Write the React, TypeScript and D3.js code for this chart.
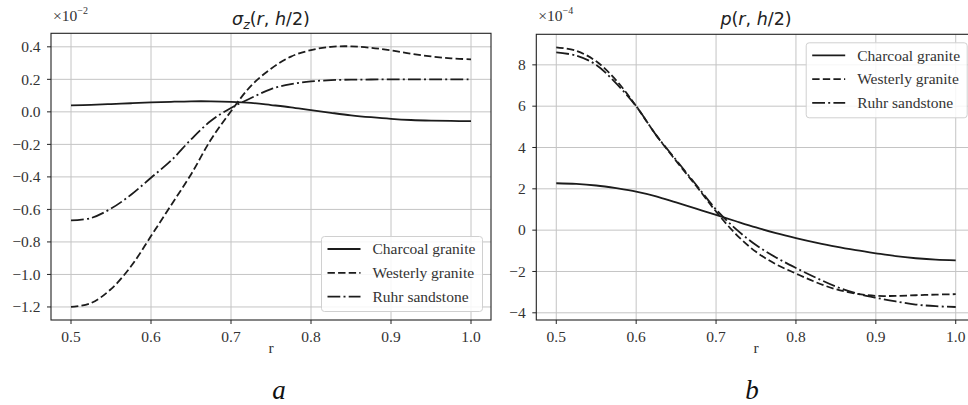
import React from "react";
import * as d3 from "d3";

// ---------- data ----------
const R = [0.5, 0.525, 0.55, 0.575, 0.6, 0.625, 0.65, 0.675, 0.7, 0.725, 0.75, 0.775, 0.8, 0.825, 0.85, 0.875, 0.9, 0.925, 0.95, 0.975, 1.0];

const seriesNames = ["Charcoal granite", "Westerly granite", "Ruhr sandstone"];

// sigma_z(r, h/2), units of 1e-2
const sigmaCharcoal = [0.04, 0.043, 0.048, 0.053, 0.058, 0.062, 0.065, 0.065, 0.062, 0.055, 0.042, 0.028, 0.01, -0.006, -0.021, -0.033, -0.043, -0.05, -0.054, -0.056, -0.057];
const sigmaWesterly = [-1.2, -1.176, -1.09, -0.95, -0.764, -0.575, -0.385, -0.17, 0.004, 0.16, 0.265, 0.34, 0.38, 0.4, 0.403, 0.394, 0.378, 0.358, 0.341, 0.329, 0.323];
const sigmaRuhr = [-0.668, -0.653, -0.595, -0.51, -0.405, -0.3, -0.17, -0.055, 0.024, 0.085, 0.14, 0.17, 0.187, 0.195, 0.198, 0.199, 0.2, 0.2, 0.2, 0.2, 0.2];

// p(r, h/2), units of 1e-4
const pCharcoal = [2.27, 2.24, 2.16, 2.03, 1.87, 1.64, 1.34, 1.04, 0.74, 0.43, 0.13, -0.14, -0.38, -0.6, -0.8, -0.97, -1.12, -1.26, -1.36, -1.43, -1.46];
const pWesterly = [8.85, 8.68, 8.17, 7.25, 6.0, 4.6, 3.35, 2.15, 0.9, -0.2, -1.05, -1.65, -2.1, -2.52, -2.86, -3.07, -3.18, -3.18, -3.15, -3.12, -3.1];
const pRuhr = [8.6, 8.45, 8.0, 7.1, 6.0, 4.6, 3.4, 2.2, 1.0, 0.05, -0.72, -1.32, -1.83, -2.3, -2.73, -3.05, -3.27, -3.45, -3.6, -3.68, -3.72];

const xTicks = [0.5, 0.6, 0.7, 0.8, 0.9, 1.0];
const sigmaTicks = [-1.2, -1.0, -0.8, -0.6, -0.4, -0.2, 0.0, 0.2, 0.4];
const pTicks = [-4, -2, 0, 2, 4, 6, 8];

// ---------- styles ----------
const DASHES = [null, "7.4,3.2", "12.8,3.2,2,3.2"];
const LINE_COLOR = "#1c1c1c";
const SERIF = "Liberation Serif, DejaVu Serif, serif";
const SANS = "DejaVu Sans, sans-serif";
const FS = 15.5;

const fmtMinus = (s: string) => s.replace("-", "\u2212");

type PanelProps = {
  left: number; right: number; top: number; bottom: number;
  data: number[][];
  yTicks: number[];
  yFmt: (v: number) => string;
  title: React.ReactNode;
  exponent: string;
  legendPos: "upper" | "lower";
  letter: string;
  letterX: number;
};

const serifStyle = { fontFamily: SERIF };

function Panel(p: PanelProps) {
  const x = d3.scaleLinear().domain([0.475, 1.025]).range([p.left, p.right]);
  const all = p.data.flat();
  const [mn, mx] = d3.extent(all) as [number, number];
  const m = (mx - mn) * 0.05;
  const y = d3.scaleLinear().domain([mn - m, mx + m]).range([p.bottom, p.top]);
  const line = d3.line<number>().x((_, i) => x(R[i])).y((d) => y(d)).curve(d3.curveCatmullRom.alpha(0.5));

  const legW = 161, legH = 75;
  const legX = p.right - 8.5 - legW;
  const legY = p.legendPos === "upper" ? p.top + 8.5 : p.bottom - 8.5 - legH;
  const cx = (p.left + p.right) / 2;

  return (
    <g>
      <defs>
        <clipPath id={`clip-${p.letter}`}>
          <rect x={p.left} y={p.top} width={p.right - p.left} height={p.bottom - p.top} />
        </clipPath>
      </defs>
      {xTicks.map((t) => (
        <line key={"gx" + t} x1={x(t)} x2={x(t)} y1={p.top} y2={p.bottom} stroke="#c4c4c4" strokeWidth={1} />
      ))}
      {p.yTicks.map((t) => (
        <line key={"gy" + t} x1={p.left} x2={p.right} y1={y(t)} y2={y(t)} stroke="#c4c4c4" strokeWidth={1} />
      ))}
      <g clipPath={`url(#clip-${p.letter})`}>
        {p.data.map((s, i) => (
          <path key={"s" + i} d={line(s) || ""} fill="none" stroke={LINE_COLOR} strokeWidth={1.8}
            strokeDasharray={DASHES[i] || undefined} />
        ))}
      </g>
      <rect x={p.left} y={p.top} width={p.right - p.left} height={p.bottom - p.top} fill="none" stroke="#222" strokeWidth={1.1} />
      {xTicks.map((t) => (
        <g key={"xt" + t}>
          <line x1={x(t)} x2={x(t)} y1={p.bottom} y2={p.bottom + 4} stroke="#222" strokeWidth={1} />
          <text x={x(t)} y={p.bottom + 21.5} textAnchor="middle" style={serifStyle} fontSize={FS} fill="#333">
            {t.toFixed(1)}
          </text>
        </g>
      ))}
      {p.yTicks.map((t) => (
        <g key={"yt" + t}>
          <line x1={p.left - 4} x2={p.left} y1={y(t)} y2={y(t)} stroke="#222" strokeWidth={1} />
          <text x={p.left - 10.5} y={y(t) + 5.2} textAnchor="end" style={serifStyle} fontSize={FS} fill="#333">
            {p.yFmt(t)}
          </text>
        </g>
      ))}
      <text x={p.left + 2} y={20.5} style={serifStyle} fontSize={FS} fill="#333">
        ×10<tspan fontSize={10} dy={-7}>{fmtMinus(p.exponent)}</tspan>
      </text>
      <text x={cx} y={25} textAnchor="middle" style={{ fontFamily: SANS }} fontSize={17.5} fill="#222">
        {p.title}
      </text>
      <text x={cx} y={353} textAnchor="middle" style={serifStyle} fontSize={FS} fill="#333">r</text>
      <text x={p.letterX} y={398.5} textAnchor="middle" style={serifStyle} fontStyle="italic" fontSize={27} fill="#111">
        {p.letter}
      </text>
      <g>
        <rect x={legX} y={legY} width={legW} height={legH} rx={3} ry={3} fill="white" fillOpacity={0.85} stroke="#d0d0d0" strokeWidth={1} />
        {seriesNames.map((n, i) => {
          const ry = legY + 12.5 + i * 23.8;
          return (
            <g key={"lg" + i}>
              <line x1={legX + 6} x2={legX + 39} y1={ry} y2={ry} stroke={LINE_COLOR} strokeWidth={1.8}
                strokeDasharray={DASHES[i] || undefined} />
              <text x={legX + 51} y={ry + 5.2} style={serifStyle} fontSize={FS} fill="#333">{n}</text>
            </g>
          );
        })}
      </g>
    </g>
  );
}

export default function App() {
  const sigmaTitle = (
    <>
      <tspan fontStyle="italic">σ</tspan>
      <tspan fontStyle="italic" fontSize={12.5} dy={4}>z</tspan>
      <tspan dy={-4}>(</tspan>
      <tspan fontStyle="italic">r</tspan>
      <tspan>, </tspan>
      <tspan fontStyle="italic">h</tspan>
      <tspan>/2)</tspan>
    </>
  );
  const pTitle = (
    <>
      <tspan fontStyle="italic">p</tspan>
      <tspan>(</tspan>
      <tspan fontStyle="italic">r</tspan>
      <tspan>, </tspan>
      <tspan fontStyle="italic">h</tspan>
      <tspan>/2)</tspan>
    </>
  );
  return (
    <svg width={968} height={405} style={{ position: "absolute", left: 0, top: 0, background: "white" }}>
      <rect x={0} y={0} width={968} height={405} fill="white" />
      <Panel left={51} right={491} top={33.3} bottom={320}
        data={[sigmaCharcoal, sigmaWesterly, sigmaRuhr]}
        yTicks={sigmaTicks}
        yFmt={(v) => fmtMinus(v.toFixed(1))}
        title={sigmaTitle}
        exponent="-2"
        legendPos="lower"
        letter="a"
        letterX={279} />
      <Panel left={536.3} right={975.7} top={34.3} bottom={320}
        data={[pCharcoal, pWesterly, pRuhr]}
        yTicks={pTicks}
        yFmt={(v) => fmtMinus(String(v))}
        title={pTitle}
        exponent="-4"
        legendPos="upper"
        letter="b"
        letterX={752} />
    </svg>
  );
}
